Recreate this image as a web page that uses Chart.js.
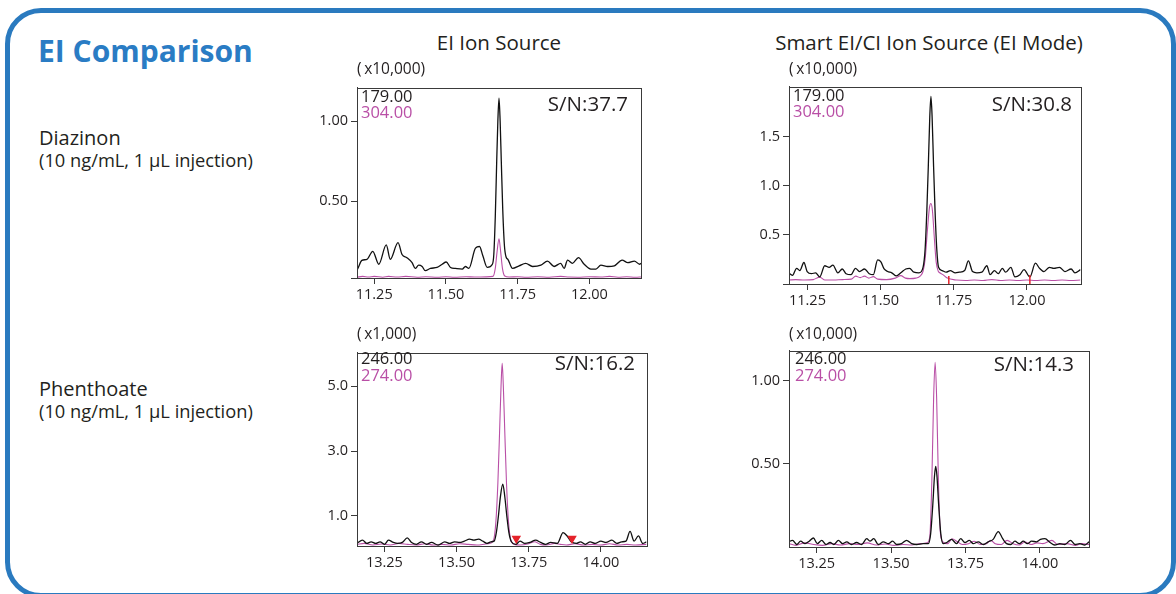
<!DOCTYPE html>
<html>
<head>
<meta charset="utf-8">
<script src="https://cdn.jsdelivr.net/npm/chart.js@4.4.1/dist/chart.umd.min.js"></script>
<style>
  html, body { margin: 0; padding: 0; background: #fff; }
  body { position: relative; width: 1176px; height: 594px; overflow: hidden; font-family: "Open Sans", "Noto Sans", sans-serif; }
  .frame { position: absolute; left: 5px; top: 8px; width: 1171px; height: 590px; box-sizing: border-box;
           border: 5px solid #2a7abf; border-radius: 36px; }
  .txt { position: absolute; white-space: nowrap; line-height: 1; color: #231f20; }
  canvas { position: absolute; }
</style>
</head>
<body>
<div class="frame"></div>
<canvas id="diazEi"></canvas>
<canvas id="diazSmart"></canvas>
<canvas id="phenEi"></canvas>
<canvas id="phenSmart"></canvas>
<script>
// Chromatogram traces: [retention time (min), intensity]
const diazinonEi179 = [
  [11.190, 0.07], [11.193, 0.08], [11.207, 0.13], [11.225, 0.137], [11.245, 0.187], [11.266, 0.106],
  [11.292, 0.227], [11.306, 0.137], [11.333, 0.241], [11.347, 0.167], [11.364, 0.147], [11.382, 0.116],
  [11.393, 0.08], [11.405, 0.10], [11.417, 0.092], [11.428, 0.066], [11.446, 0.08], [11.469, 0.086],
  [11.487, 0.106], [11.501, 0.12], [11.516, 0.086], [11.533, 0.08], [11.557, 0.076], [11.568, 0.092],
  [11.580, 0.08], [11.603, 0.207], [11.617, 0.217], [11.629, 0.157], [11.644, 0.086], [11.662, 0.106],
  [11.667, 0.17], [11.672, 0.40], [11.677, 0.75], [11.681, 1.0], [11.685, 1.145], [11.689, 1.0],
  [11.693, 0.75], [11.698, 0.45], [11.704, 0.22], [11.710, 0.15], [11.716, 0.137], [11.732, 0.08],
  [11.755, 0.096], [11.778, 0.112], [11.802, 0.092], [11.831, 0.10], [11.854, 0.126], [11.877, 0.092],
  [11.900, 0.112], [11.912, 0.08], [11.924, 0.132], [11.941, 0.112], [11.962, 0.147], [11.982, 0.106],
  [12.005, 0.076], [12.023, 0.076], [12.040, 0.10], [12.064, 0.092], [12.087, 0.096], [12.114, 0.132],
  [12.134, 0.116], [12.157, 0.126], [12.175, 0.106], [12.180, 0.112]
];
const diazinonEi304 = [
  [11.190, 0.025], [11.210, 0.03], [11.230, 0.026], [11.250, 0.03], [11.280, 0.025], [11.300, 0.03],
  [11.330, 0.026], [11.360, 0.03], [11.400, 0.025], [11.430, 0.028], [11.470, 0.025], [11.500, 0.028],
  [11.530, 0.025], [11.570, 0.028], [11.600, 0.026], [11.640, 0.027], [11.664, 0.03], [11.672, 0.08],
  [11.678, 0.18], [11.685, 0.265], [11.691, 0.18], [11.697, 0.08], [11.705, 0.032], [11.720, 0.026],
  [11.750, 0.028], [11.780, 0.025], [11.820, 0.028], [11.860, 0.025], [11.900, 0.03], [11.930, 0.026],
  [11.960, 0.025], [12.000, 0.028], [12.040, 0.026], [12.070, 0.03], [12.100, 0.025], [12.130, 0.028],
  [12.160, 0.025], [12.183, 0.027]
];
const diazinonSmart179 = [
  [11.185, 0.115], [11.199, 0.088], [11.213, 0.16], [11.224, 0.137], [11.238, 0.219], [11.249, 0.127],
  [11.264, 0.105], [11.278, 0.114], [11.292, 0.072], [11.309, 0.186], [11.324, 0.17], [11.337, 0.193],
  [11.354, 0.114], [11.369, 0.153], [11.382, 0.105], [11.399, 0.095], [11.414, 0.16], [11.428, 0.127],
  [11.445, 0.153], [11.461, 0.105], [11.475, 0.095], [11.490, 0.245], [11.501, 0.226], [11.512, 0.153],
  [11.524, 0.127], [11.538, 0.114], [11.554, 0.082], [11.569, 0.114], [11.586, 0.153], [11.599, 0.16],
  [11.614, 0.12], [11.631, 0.114], [11.645, 0.17], [11.652, 0.35], [11.658, 0.75], [11.663, 1.2],
  [11.668, 1.7], [11.672, 1.91], [11.676, 1.7], [11.681, 1.2], [11.686, 0.75], [11.692, 0.35],
  [11.698, 0.17], [11.710, 0.137], [11.724, 0.12], [11.738, 0.137], [11.755, 0.114], [11.769, 0.12],
  [11.787, 0.137], [11.800, 0.235], [11.814, 0.127], [11.829, 0.114], [11.846, 0.12], [11.863, 0.186],
  [11.874, 0.095], [11.889, 0.137], [11.902, 0.105], [11.916, 0.16], [11.927, 0.12], [11.945, 0.17],
  [11.959, 0.072], [11.976, 0.095], [11.990, 0.147], [12.010, 0.072], [12.029, 0.212], [12.043, 0.16],
  [12.058, 0.127], [12.077, 0.17], [12.092, 0.16], [12.111, 0.17], [12.130, 0.127], [12.151, 0.153],
  [12.164, 0.114], [12.183, 0.147]
];
const diazinonSmart304 = [
  [11.187, 0.04], [11.210, 0.045], [11.240, 0.04], [11.270, 0.045], [11.292, 0.07], [11.310, 0.04],
  [11.340, 0.04], [11.370, 0.045], [11.400, 0.05], [11.415, 0.08], [11.430, 0.065], [11.445, 0.08],
  [11.460, 0.06], [11.475, 0.075], [11.490, 0.05], [11.520, 0.045], [11.550, 0.06], [11.569, 0.085],
  [11.585, 0.06], [11.600, 0.055], [11.620, 0.06], [11.635, 0.08], [11.645, 0.13], [11.652, 0.25],
  [11.660, 0.55], [11.667, 0.78], [11.672, 0.82], [11.677, 0.75], [11.684, 0.45], [11.690, 0.22],
  [11.697, 0.13], [11.705, 0.11], [11.715, 0.09], [11.728, 0.06], [11.760, 0.04], [11.790, 0.035],
  [11.820, 0.04], [11.850, 0.035], [11.880, 0.045], [11.910, 0.035], [11.940, 0.04], [11.970, 0.035],
  [12.000, 0.04], [12.030, 0.035], [12.060, 0.04], [12.090, 0.035], [12.120, 0.04], [12.150, 0.035],
  [12.183, 0.04]
];
const phenthoateEi246 = [
  [13.155, 0.15], [13.174, 0.25], [13.189, 0.15], [13.204, 0.2], [13.220, 0.15], [13.235, 0.2],
  [13.250, 0.12], [13.264, 0.25], [13.281, 0.18], [13.296, 0.15], [13.312, 0.18], [13.329, 0.32],
  [13.344, 0.18], [13.361, 0.12], [13.378, 0.2], [13.396, 0.12], [13.413, 0.18], [13.436, 0.1],
  [13.459, 0.2], [13.476, 0.15], [13.493, 0.2], [13.510, 0.18], [13.527, 0.22], [13.545, 0.28],
  [13.560, 0.25], [13.576, 0.28], [13.591, 0.22], [13.605, 0.15], [13.619, 0.2], [13.630, 0.22],
  [13.638, 0.5], [13.645, 1.0], [13.652, 1.6], [13.660, 1.98], [13.667, 1.6], [13.674, 1.0],
  [13.681, 0.5], [13.690, 0.2], [13.705, 0.12], [13.720, 0.22], [13.736, 0.15], [13.754, 0.18],
  [13.774, 0.25], [13.791, 0.18], [13.808, 0.12], [13.826, 0.18], [13.849, 0.15], [13.869, 0.48],
  [13.883, 0.38], [13.897, 0.2], [13.915, 0.15], [13.929, 0.2], [13.946, 0.12], [13.963, 0.2],
  [13.980, 0.15], [14.000, 0.22], [14.018, 0.18], [14.038, 0.25], [14.055, 0.15], [14.072, 0.2],
  [14.087, 0.22], [14.101, 0.52], [14.115, 0.22], [14.130, 0.38], [14.145, 0.15], [14.158, 0.2]
];
const phenthoateEi274 = [
  [13.155, 0.12], [13.180, 0.15], [13.210, 0.1], [13.240, 0.13], [13.270, 0.1], [13.300, 0.15],
  [13.330, 0.12], [13.360, 0.1], [13.390, 0.14], [13.420, 0.1], [13.450, 0.12], [13.480, 0.1],
  [13.510, 0.14], [13.540, 0.12], [13.570, 0.1], [13.600, 0.13], [13.615, 0.15], [13.628, 0.25],
  [13.636, 0.8], [13.643, 2.0], [13.649, 3.6], [13.654, 5.0], [13.658, 5.71], [13.662, 5.0],
  [13.667, 3.6], [13.673, 2.0], [13.680, 0.8], [13.688, 0.25], [13.700, 0.12], [13.720, 0.1],
  [13.750, 0.14], [13.770, 0.2], [13.790, 0.12], [13.810, 0.1], [13.840, 0.15], [13.860, 0.12],
  [13.880, 0.1], [13.910, 0.14], [13.940, 0.1], [13.970, 0.12], [14.000, 0.1], [14.030, 0.14],
  [14.060, 0.1], [14.090, 0.12], [14.120, 0.1], [14.158, 0.12]
];
const phenthoateSmart246 = [
  [13.155, 0.031], [13.169, 0.04], [13.183, 0.015], [13.196, 0.035], [13.211, 0.02], [13.225, 0.035],
  [13.239, 0.054], [13.252, 0.02], [13.267, 0.04], [13.281, 0.015], [13.295, 0.027], [13.308, 0.015],
  [13.323, 0.04], [13.337, 0.02], [13.351, 0.031], [13.367, 0.015], [13.384, 0.027], [13.401, 0.015],
  [13.418, 0.05], [13.429, 0.035], [13.442, 0.05], [13.457, 0.015], [13.474, 0.031], [13.491, 0.02],
  [13.505, 0.035], [13.519, 0.015], [13.535, 0.02], [13.552, 0.04], [13.569, 0.02], [13.586, 0.015],
  [13.608, 0.02], [13.625, 0.02], [13.633, 0.08], [13.640, 0.25], [13.646, 0.43], [13.650, 0.485],
  [13.654, 0.43], [13.660, 0.25], [13.667, 0.08], [13.675, 0.02], [13.687, 0.027], [13.703, 0.046],
  [13.720, 0.02], [13.734, 0.05], [13.748, 0.027], [13.763, 0.04], [13.776, 0.02], [13.793, 0.031],
  [13.810, 0.015], [13.826, 0.031], [13.843, 0.046], [13.860, 0.093], [13.875, 0.05], [13.888, 0.02],
  [13.902, 0.015], [13.916, 0.035], [13.931, 0.02], [13.944, 0.035], [13.958, 0.02], [13.972, 0.035],
  [13.989, 0.031], [14.002, 0.046], [14.017, 0.05], [14.034, 0.027], [14.050, 0.012], [14.067, 0.02],
  [14.084, 0.015], [14.103, 0.04], [14.118, 0.015], [14.134, 0.02], [14.151, 0.012], [14.165, 0.031]
];
const phenthoateSmart274 = [
  [13.157, 0.02], [13.180, 0.01], [13.210, 0.025], [13.240, 0.015], [13.270, 0.01], [13.300, 0.02],
  [13.330, 0.012], [13.360, 0.02], [13.390, 0.015], [13.420, 0.025], [13.450, 0.012], [13.480, 0.018],
  [13.510, 0.01], [13.540, 0.015], [13.570, 0.012], [13.600, 0.02], [13.620, 0.025], [13.630, 0.06],
  [13.637, 0.4], [13.643, 0.9], [13.648, 1.11], [13.653, 0.9], [13.659, 0.4], [13.666, 0.08],
  [13.675, 0.03], [13.690, 0.02], [13.705, 0.05], [13.720, 0.035], [13.740, 0.015], [13.760, 0.02],
  [13.780, 0.035], [13.800, 0.015], [13.820, 0.02], [13.835, 0.04], [13.850, 0.02], [13.870, 0.015],
  [13.890, 0.04], [13.910, 0.02], [13.930, 0.012], [13.950, 0.03], [13.970, 0.015], [13.990, 0.025],
  [14.010, 0.02], [14.040, 0.04], [14.060, 0.015], [14.090, 0.02], [14.120, 0.01], [14.140, 0.02],
  [14.165, 0.015]
];

// integration markers (red)
const diazinonSmartMarks = [[11.733, 0.03], [12.010, 0.04]];
const phenthoateEiMarks = [[13.707, 0.30], [13.900, 0.30]];

// tick values
const diazinonXTicks = [11.25, 11.50, 11.75, 12.00];
const phenthoateXTicks = [13.25, 13.50, 13.75, 14.00];
const diazinonEiYTicks = [0.50, 1.00];
const diazinonSmartYTicks = [0.5, 1.0, 1.5];
const phenthoateEiYTicks = [1.0, 3.0, 5.0];
const phenthoateSmartYTicks = [0.50, 1.00];

// labels
const columnTitles = ['EI Ion Source', 'Smart EI/CI Ion Source (EI Mode)'];
const compounds = ['Diazinon', 'Phenthoate'];
const conditionText = '(10 ng/mL, 1 µL injection)';
const diazinonIons = ['179.00', '304.00'];
const phenthoateIons = ['246.00', '274.00'];
const snLabels = ['S/N:37.7', 'S/N:30.8', 'S/N:16.2', 'S/N:14.3'];
const scaleLabels = ['(\u2009x10,000)', '(\u2009x10,000)', '(\u2009x1,000)', '(\u2009x10,000)'];

const PINK = '#b94fa6';
const AXIS_W = 50, AXIS_H = 30, PAD = 4;

// --- text helpers (Open Sans baseline sits at ~0.888em with line-height 1)
const addText = (text, x, baseline, size, opts = {}) => {
    const d = document.createElement('div');
    d.className = 'txt';
    d.textContent = text;
    d.style.fontSize = size + 'px';
    d.style.top = (baseline - size * 0.888) + 'px';
    if (opts.bold) d.style.fontWeight = '700';
    if (opts.color) d.style.color = opts.color;
    document.body.appendChild(d);
    const w = d.getBoundingClientRect().width;
    if (opts.align === 'center') d.style.left = (x - w / 2) + 'px';
    else if (opts.align === 'right') d.style.left = (x - w) + 'px';
    else d.style.left = x + 'px';
    return d;
};

// draws the closed frame round the plot area
const boxPlugin = {
    id: 'plotBox',
    afterDraw(chart) {
        const { ctx, chartArea: a } = chart;
        ctx.save();
        ctx.strokeStyle = '#3a3a3a';
        ctx.lineWidth = 1;
        ctx.strokeRect(Math.round(a.left) + 0.5, Math.round(a.top) + 0.5,
                       Math.round(a.right - a.left), Math.round(a.bottom - a.top));
        ctx.restore();
    }
};

const toXY = arr => arr.map(([x, y]) => ({ x, y }));

const buildPanel = (id, p) => {
    const canvas = document.getElementById(id);
    const w = (p.box.r - p.box.l) + AXIS_W + PAD;
    const h = (p.box.b - p.box.t) + PAD + AXIS_H;
    canvas.width = w;
    canvas.height = h;
    canvas.style.left = (p.box.l - AXIS_W) + 'px';
    canvas.style.top = (p.box.t - PAD) + 'px';

    const datasets = [
        {
            data: toXY(p.black), borderColor: '#111', borderWidth: 1.3,
            pointRadius: 0, cubicInterpolationMode: 'monotone', order: 1
        },
        {
            data: toXY(p.pink), borderColor: PINK, borderWidth: 1.1,
            pointRadius: 0, cubicInterpolationMode: 'monotone', order: 2
        }
    ];
    if (p.marks) {
        datasets.push({
            data: toXY(p.marks), showLine: false, order: 0,
            pointStyle: p.markStyle, rotation: p.markRotation, pointRadius: p.markRadius,
            borderColor: '#e5232b', backgroundColor: '#e5232b', borderWidth: 1.5
        });
    }

    const yTickValues = p.bottomTick ? [p.yMin, ...p.yTicks] : p.yTicks;

    new Chart(canvas.getContext('2d'), {
        type: 'line',
        data: { datasets },
        options: {
            responsive: false,
            animation: false,
            devicePixelRatio: 1,
            layout: { padding: { top: PAD, right: PAD, left: 0, bottom: 0 } },
            plugins: { legend: { display: false }, tooltip: { enabled: false } },
            scales: {
                x: {
                    type: 'linear', min: p.xMin, max: p.xMax,
                    afterFit: s => { s.height = AXIS_H; },
                    afterBuildTicks: a => { a.ticks = p.xTicks.map(v => ({ value: v })); },
                    ticks: {
                        autoSkip: false, maxRotation: 0, padding: 2, color: '#231f20',
                        font: { family: 'Open Sans', size: 14.5 },
                        callback: v => v.toFixed(2)
                    },
                    grid: { drawOnChartArea: false, tickLength: 6, tickColor: '#3a3a3a' },
                    border: { color: '#3a3a3a' }
                },
                y: {
                    type: 'linear', min: p.yMin, max: p.yMax,
                    afterFit: s => { s.width = AXIS_W; },
                    afterBuildTicks: a => { a.ticks = yTickValues.map(v => ({ value: v })); },
                    ticks: {
                        autoSkip: false, padding: 3, color: '#231f20',
                        font: { family: 'Open Sans', size: 14.5 },
                        callback: v => (p.bottomTick && v === p.yMin) ? '' : v.toFixed(p.yDecimals)
                    },
                    grid: { drawOnChartArea: false, tickLength: 6, tickColor: '#3a3a3a' },
                    border: { color: '#3a3a3a' }
                }
            }
        },
        plugins: [boxPlugin]
    });
};

buildPanel('diazEi', {
    box: { l: 357, t: 80, r: 641, b: 278 },
    xMin: 11.19, xMax: 12.18, yMin: 0.02, yMax: 1.21,
    xTicks: diazinonXTicks, yTicks: diazinonEiYTicks, yDecimals: 2, bottomTick: true,
    black: diazinonEi179, pink: diazinonEi304
});
buildPanel('diazSmart', {
    box: { l: 789, t: 79, r: 1083, b: 284 },
    xMin: 11.187, xMax: 12.183, yMin: 0, yMax: 2.01,
    xTicks: diazinonXTicks, yTicks: diazinonSmartYTicks, yDecimals: 1, bottomTick: true,
    black: diazinonSmart179, pink: diazinonSmart304,
    marks: diazinonSmartMarks, markStyle: 'line', markRotation: 90, markRadius: 5
});
buildPanel('phenEi', {
    box: { l: 357, t: 345, r: 648, b: 546 },
    xMin: 13.155, xMax: 14.158, yMin: 0.07, yMax: 6.04,
    xTicks: phenthoateXTicks, yTicks: phenthoateEiYTicks, yDecimals: 1,
    black: phenthoateEi246, pink: phenthoateEi274,
    marks: phenthoateEiMarks, markStyle: 'triangle', markRotation: 180, markRadius: 4
});
buildPanel('phenSmart', {
    box: { l: 789, t: 343, r: 1089, b: 547 },
    xMin: 13.157, xMax: 14.165, yMin: 0, yMax: 1.18,
    xTicks: phenthoateXTicks, yTicks: phenthoateSmartYTicks, yDecimals: 2,
    black: phenthoateSmart246, pink: phenthoateSmart274
});

// --- page text
addText('EI Comparison', 38, 63, 30, { bold: true, color: '#2a7cc4' });
addText(columnTitles[0], 499, 50, 20.5, { align: 'center' });
addText(columnTitles[1], 929, 50, 20.5, { align: 'center' });
addText(compounds[0], 39, 146, 20);
addText(conditionText, 39, 167, 18.3);
addText(compounds[1], 39, 397, 20);
addText(conditionText, 39, 418, 18.3);

addText(scaleLabels[0], 357, 74.5, 15.5);
addText(scaleLabels[1], 789, 74.5, 15.5);
addText(scaleLabels[2], 357, 339.5, 15.5);
addText(scaleLabels[3], 789, 339.5, 15.5);

addText(diazinonIons[0], 361, 102.5, 16.5);
addText(diazinonIons[1], 361, 118.5, 16.5, { color: PINK });
addText(diazinonIons[0], 793, 101.5, 16.5);
addText(diazinonIons[1], 793, 117.5, 16.5, { color: PINK });
addText(phenthoateIons[0], 361, 365, 16.5);
addText(phenthoateIons[1], 361, 382, 16.5, { color: PINK });
addText(phenthoateIons[0], 795, 365, 16.5);
addText(phenthoateIons[1], 795, 381.5, 16.5, { color: PINK });

addText(snLabels[0], 628, 111, 20.5, { align: 'right' });
addText(snLabels[1], 1072, 111.5, 20.5, { align: 'right' });
addText(snLabels[2], 635, 370.5, 20.5, { align: 'right' });
addText(snLabels[3], 1074, 371.5, 20.5, { align: 'right' });
</script>
</body>
</html>
